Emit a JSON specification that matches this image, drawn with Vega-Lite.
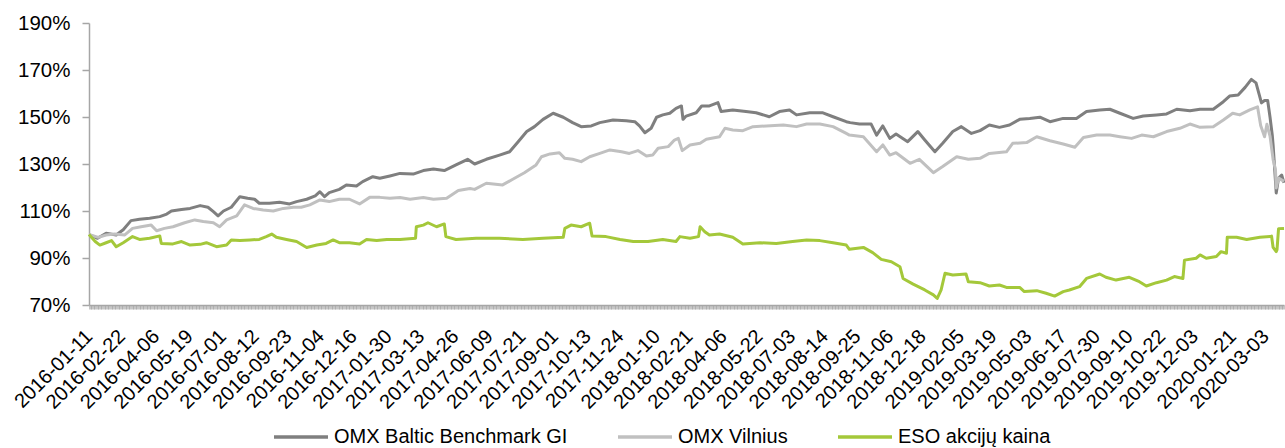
{
  "$schema": "https://vega.github.io/schema/vega-lite/v6.json",
  "width": 1195,
  "height": 282,
  "autosize": {"type": "none"},
  "padding": {"left": 89, "top": 23, "right": 1, "bottom": 143},
  "background": "white",
  "config": {"font": "Liberation Sans", "view": {"stroke": null}},
  "datasets": {
    "baltic": [
      {"d":"2016-01-11","v":100},{"d":"2016-01-22","v":98.4},{"d":"2016-02-02","v":100.5},{"d":"2016-02-15","v":99.8},{"d":"2016-02-24","v":102},{"d":"2016-03-05","v":105.9},{"d":"2016-03-16","v":106.5},{"d":"2016-03-29","v":106.9},{"d":"2016-04-11","v":107.6},{"d":"2016-04-20","v":108.7},{"d":"2016-04-26","v":110},{"d":"2016-05-09","v":110.6},{"d":"2016-05-20","v":111.1},{"d":"2016-06-02","v":112.3},{"d":"2016-06-12","v":111.6},{"d":"2016-06-19","v":109.7},{"d":"2016-06-25","v":107.9},{"d":"2016-07-02","v":110},{"d":"2016-07-12","v":111.6},{"d":"2016-07-23","v":116.1},{"d":"2016-08-02","v":115.4},{"d":"2016-08-11","v":115},{"d":"2016-08-17","v":113.3},{"d":"2016-08-30","v":113.3},{"d":"2016-09-12","v":113.7},{"d":"2016-09-25","v":113},{"d":"2016-10-04","v":114},{"d":"2016-10-17","v":115},{"d":"2016-10-28","v":116.4},{"d":"2016-11-03","v":118.2},{"d":"2016-11-09","v":116.1},{"d":"2016-11-15","v":117.8},{"d":"2016-11-28","v":119.2},{"d":"2016-12-07","v":121.1},{"d":"2016-12-20","v":120.6},{"d":"2016-12-28","v":122.5},{"d":"2017-01-10","v":124.6},{"d":"2017-01-19","v":123.9},{"d":"2017-02-01","v":124.9},{"d":"2017-02-14","v":126},{"d":"2017-03-03","v":125.7},{"d":"2017-03-16","v":127.2},{"d":"2017-03-29","v":127.9},{"d":"2017-04-12","v":127.2},{"d":"2017-04-27","v":129.6},{"d":"2017-05-12","v":132},{"d":"2017-05-21","v":130},{"d":"2017-06-05","v":132},{"d":"2017-06-22","v":133.8},{"d":"2017-07-05","v":135.2},{"d":"2017-07-16","v":139.5},{"d":"2017-07-27","v":143.8},{"d":"2017-08-06","v":145.9},{"d":"2017-08-17","v":149},{"d":"2017-08-30","v":151.6},{"d":"2017-09-12","v":149.9},{"d":"2017-09-24","v":147.6},{"d":"2017-10-05","v":145.9},{"d":"2017-10-18","v":146.2},{"d":"2017-10-29","v":147.6},{"d":"2017-11-15","v":148.7},{"d":"2017-12-02","v":148.4},{"d":"2017-12-13","v":148},{"d":"2017-12-19","v":146.2},{"d":"2017-12-26","v":143.3},{"d":"2018-01-03","v":145.2},{"d":"2018-01-10","v":149.9},{"d":"2018-01-18","v":150.9},{"d":"2018-01-27","v":151.6},{"d":"2018-02-04","v":153.7},{"d":"2018-02-11","v":154.7},{"d":"2018-02-13","v":149},{"d":"2018-02-17","v":150.4},{"d":"2018-03-02","v":151.8},{"d":"2018-03-09","v":154.7},{"d":"2018-03-19","v":154.7},{"d":"2018-03-30","v":156.1},{"d":"2018-04-03","v":152.3},{"d":"2018-04-18","v":153},{"d":"2018-05-05","v":152.3},{"d":"2018-05-18","v":151.8},{"d":"2018-06-04","v":150.1},{"d":"2018-06-17","v":152.3},{"d":"2018-06-30","v":153},{"d":"2018-07-09","v":150.9},{"d":"2018-07-26","v":151.8},{"d":"2018-08-12","v":151.8},{"d":"2018-08-25","v":150.1},{"d":"2018-09-11","v":148},{"d":"2018-09-16","v":147.6},{"d":"2018-09-28","v":147},{"d":"2018-10-13","v":147},{"d":"2018-10-20","v":142.3},{"d":"2018-10-28","v":146.2},{"d":"2018-11-06","v":140.9},{"d":"2018-11-14","v":142.8},{"d":"2018-11-29","v":139.5},{"d":"2018-12-12","v":143.8},{"d":"2018-12-21","v":140.2},{"d":"2019-01-03","v":135.2},{"d":"2019-01-13","v":138.8},{"d":"2019-01-26","v":143.8},{"d":"2019-02-06","v":145.9},{"d":"2019-02-19","v":143},{"d":"2019-03-02","v":144.2},{"d":"2019-03-14","v":146.6},{"d":"2019-03-27","v":145.6},{"d":"2019-04-09","v":146.6},{"d":"2019-04-22","v":149},{"d":"2019-05-05","v":149.4},{"d":"2019-05-18","v":149.9},{"d":"2019-05-31","v":148},{"d":"2019-06-17","v":149.4},{"d":"2019-07-04","v":149.4},{"d":"2019-07-17","v":152.3},{"d":"2019-08-03","v":153},{"d":"2019-08-16","v":153.3},{"d":"2019-08-29","v":151.6},{"d":"2019-09-15","v":149.4},{"d":"2019-09-28","v":150.4},{"d":"2019-10-15","v":150.9},{"d":"2019-10-28","v":151.3},{"d":"2019-11-10","v":153.3},{"d":"2019-11-27","v":152.7},{"d":"2019-12-10","v":153.3},{"d":"2019-12-27","v":153.3},{"d":"2020-01-09","v":156.5},{"d":"2020-01-17","v":158.9},{"d":"2020-01-28","v":159.4},{"d":"2020-02-06","v":162.6},{"d":"2020-02-14","v":166},{"d":"2020-02-20","v":164.5},{"d":"2020-02-27","v":156},{"d":"2020-03-02","v":157},{"d":"2020-03-06","v":157},{"d":"2020-03-09","v":150},{"d":"2020-03-12","v":142},{"d":"2020-03-13","v":138},{"d":"2020-03-17","v":117.7},{"d":"2020-03-20","v":124},{"d":"2020-03-24","v":125.3},{"d":"2020-03-27","v":122}
    ],
    "vilnius": [
      {"d":"2016-01-11","v":100},{"d":"2016-01-23","v":98.8},{"d":"2016-02-02","v":99.8},{"d":"2016-02-13","v":100.2},{"d":"2016-02-26","v":99.8},{"d":"2016-03-07","v":102.6},{"d":"2016-03-18","v":103.3},{"d":"2016-03-31","v":104},{"d":"2016-04-07","v":101.6},{"d":"2016-04-17","v":102.6},{"d":"2016-04-28","v":103.3},{"d":"2016-05-13","v":105},{"d":"2016-05-26","v":106.2},{"d":"2016-06-06","v":105.5},{"d":"2016-06-19","v":105},{"d":"2016-06-27","v":103.3},{"d":"2016-07-06","v":106.2},{"d":"2016-07-19","v":107.9},{"d":"2016-07-29","v":112.6},{"d":"2016-08-09","v":111.1},{"d":"2016-08-22","v":110.4},{"d":"2016-09-04","v":110},{"d":"2016-09-17","v":111.1},{"d":"2016-09-30","v":111.6},{"d":"2016-10-10","v":111.6},{"d":"2016-10-21","v":112.6},{"d":"2016-11-03","v":114.7},{"d":"2016-11-15","v":114},{"d":"2016-11-28","v":115},{"d":"2016-12-11","v":115},{"d":"2016-12-24","v":113},{"d":"2017-01-06","v":115.8},{"d":"2017-01-19","v":115.8},{"d":"2017-02-01","v":115.4},{"d":"2017-02-14","v":115.7},{"d":"2017-02-27","v":115},{"d":"2017-03-16","v":115.7},{"d":"2017-03-29","v":115},{"d":"2017-04-15","v":115.4},{"d":"2017-04-30","v":118.7},{"d":"2017-05-15","v":119.6},{"d":"2017-05-21","v":119.2},{"d":"2017-06-05","v":121.8},{"d":"2017-06-26","v":121.1},{"d":"2017-07-09","v":123.5},{"d":"2017-07-24","v":126.3},{"d":"2017-08-08","v":129.6},{"d":"2017-08-15","v":133.1},{"d":"2017-08-26","v":134.3},{"d":"2017-09-07","v":134.8},{"d":"2017-09-14","v":132.4},{"d":"2017-09-24","v":132},{"d":"2017-10-05","v":131},{"d":"2017-10-16","v":133.1},{"d":"2017-10-29","v":134.5},{"d":"2017-11-11","v":136},{"d":"2017-11-26","v":135.2},{"d":"2017-12-06","v":134.5},{"d":"2017-12-17","v":135.7},{"d":"2017-12-28","v":133.4},{"d":"2018-01-05","v":133.8},{"d":"2018-01-12","v":136.7},{"d":"2018-01-25","v":137.4},{"d":"2018-02-02","v":140.2},{"d":"2018-02-07","v":140.9},{"d":"2018-02-12","v":135.7},{"d":"2018-02-22","v":138.1},{"d":"2018-03-07","v":138.8},{"d":"2018-03-15","v":140.5},{"d":"2018-04-01","v":141.6},{"d":"2018-04-08","v":145.2},{"d":"2018-04-18","v":144.5},{"d":"2018-05-01","v":144.2},{"d":"2018-05-14","v":145.9},{"d":"2018-05-31","v":146.2},{"d":"2018-06-22","v":146.6},{"d":"2018-07-09","v":145.9},{"d":"2018-07-22","v":147},{"d":"2018-08-08","v":147},{"d":"2018-08-25","v":145.9},{"d":"2018-09-11","v":143},{"d":"2018-09-15","v":142.3},{"d":"2018-10-03","v":141.6},{"d":"2018-10-20","v":135.2},{"d":"2018-10-28","v":138.1},{"d":"2018-11-06","v":133.8},{"d":"2018-11-14","v":134.8},{"d":"2018-12-02","v":130.3},{"d":"2018-12-14","v":132},{"d":"2019-01-01","v":126.3},{"d":"2019-01-13","v":128.9},{"d":"2019-01-31","v":133.1},{"d":"2019-02-15","v":132},{"d":"2019-03-02","v":132.4},{"d":"2019-03-14","v":134.5},{"d":"2019-04-05","v":135.2},{"d":"2019-04-13","v":138.8},{"d":"2019-05-01","v":139.1},{"d":"2019-05-14","v":141.6},{"d":"2019-05-31","v":139.9},{"d":"2019-06-17","v":138.5},{"d":"2019-07-02","v":137.1},{"d":"2019-07-13","v":141.3},{"d":"2019-07-30","v":142.3},{"d":"2019-08-16","v":142.3},{"d":"2019-08-29","v":141.6},{"d":"2019-09-13","v":140.9},{"d":"2019-09-26","v":142.3},{"d":"2019-10-11","v":141.6},{"d":"2019-10-28","v":143.8},{"d":"2019-11-14","v":145.2},{"d":"2019-11-27","v":147},{"d":"2019-12-10","v":145.6},{"d":"2019-12-27","v":145.9},{"d":"2020-01-09","v":148.7},{"d":"2020-01-21","v":151.6},{"d":"2020-01-30","v":150.9},{"d":"2020-02-12","v":153},{"d":"2020-02-22","v":154.3},{"d":"2020-02-26","v":146.4},{"d":"2020-03-02","v":141.6},{"d":"2020-03-05","v":146.9},{"d":"2020-03-09","v":141.9},{"d":"2020-03-13","v":131.9},{"d":"2020-03-16","v":127.7},{"d":"2020-03-17","v":119.8},{"d":"2020-03-20","v":124},{"d":"2020-03-27","v":122.6}
    ],
    "eso": [
      {"d":"2016-01-11","v":100},{"d":"2016-01-19","v":97},{"d":"2016-01-25","v":95.5},{"d":"2016-02-02","v":96.5},{"d":"2016-02-09","v":97.4},{"d":"2016-02-15","v":94.8},{"d":"2016-02-24","v":96.5},{"d":"2016-03-07","v":99.1},{"d":"2016-03-16","v":97.9},{"d":"2016-03-29","v":98.4},{"d":"2016-04-11","v":99.4},{"d":"2016-04-13","v":96.2},{"d":"2016-04-28","v":96},{"d":"2016-05-09","v":97},{"d":"2016-05-20","v":95.5},{"d":"2016-06-02","v":95.8},{"d":"2016-06-10","v":96.5},{"d":"2016-06-23","v":94.8},{"d":"2016-07-06","v":95.5},{"d":"2016-07-12","v":97.7},{"d":"2016-07-23","v":97.4},{"d":"2016-08-05","v":97.7},{"d":"2016-08-17","v":97.9},{"d":"2016-08-26","v":99.1},{"d":"2016-09-02","v":100.2},{"d":"2016-09-08","v":98.8},{"d":"2016-09-21","v":97.9},{"d":"2016-10-04","v":97},{"d":"2016-10-17","v":94.5},{"d":"2016-10-30","v":95.5},{"d":"2016-11-11","v":96.2},{"d":"2016-11-20","v":97.7},{"d":"2016-11-28","v":96.5},{"d":"2016-12-11","v":96.5},{"d":"2016-12-24","v":96},{"d":"2017-01-02","v":97.9},{"d":"2017-01-15","v":97.4},{"d":"2017-01-28","v":97.9},{"d":"2017-02-14","v":97.9},{"d":"2017-03-06","v":98.4},{"d":"2017-03-07","v":103.3},{"d":"2017-03-16","v":104},{"d":"2017-03-22","v":105},{"d":"2017-04-02","v":103.3},{"d":"2017-04-12","v":104.5},{"d":"2017-04-14","v":99.1},{"d":"2017-04-27","v":97.9},{"d":"2017-05-23","v":98.4},{"d":"2017-06-22","v":98.4},{"d":"2017-07-22","v":97.9},{"d":"2017-08-17","v":98.4},{"d":"2017-09-12","v":98.8},{"d":"2017-09-14","v":102.6},{"d":"2017-09-22","v":104},{"d":"2017-10-05","v":103.3},{"d":"2017-10-16","v":104.8},{"d":"2017-10-19","v":99.4},{"d":"2017-11-06","v":99.1},{"d":"2017-11-24","v":97.9},{"d":"2017-12-11","v":97},{"d":"2017-12-30","v":97},{"d":"2018-01-18","v":97.9},{"d":"2018-02-04","v":97},{"d":"2018-02-09","v":99.1},{"d":"2018-02-22","v":98.4},{"d":"2018-03-05","v":99.1},{"d":"2018-03-07","v":103.3},{"d":"2018-03-13","v":101.2},{"d":"2018-03-19","v":99.8},{"d":"2018-04-01","v":100.2},{"d":"2018-04-18","v":98.8},{"d":"2018-05-01","v":96},{"d":"2018-05-23","v":96.5},{"d":"2018-06-13","v":96.2},{"d":"2018-07-04","v":97},{"d":"2018-07-22","v":97.7},{"d":"2018-08-08","v":97.4},{"d":"2018-08-25","v":96.5},{"d":"2018-09-11","v":95.5},{"d":"2018-09-15","v":93.7},{"d":"2018-10-03","v":94.5},{"d":"2018-10-15","v":92.3},{"d":"2018-10-26","v":89.4},{"d":"2018-11-08","v":88.4},{"d":"2018-11-19","v":86.3},{"d":"2018-11-23","v":81.3},{"d":"2018-12-06","v":78.9},{"d":"2018-12-21","v":76.4},{"d":"2019-01-01","v":74.3},{"d":"2019-01-06","v":72.8},{"d":"2019-01-11","v":76.4},{"d":"2019-01-16","v":83.5},{"d":"2019-01-26","v":82.8},{"d":"2019-02-12","v":83.2},{"d":"2019-02-15","v":79.9},{"d":"2019-03-02","v":79.5},{"d":"2019-03-14","v":78.1},{"d":"2019-03-27","v":78.5},{"d":"2019-04-05","v":77.5},{"d":"2019-04-22","v":77.5},{"d":"2019-04-28","v":75.7},{"d":"2019-05-14","v":76.1},{"d":"2019-05-26","v":75},{"d":"2019-06-06","v":73.8},{"d":"2019-06-17","v":75.7},{"d":"2019-06-25","v":76.4},{"d":"2019-07-08","v":77.8},{"d":"2019-07-17","v":81.3},{"d":"2019-08-03","v":83.2},{"d":"2019-08-11","v":81.8},{"d":"2019-08-24","v":80.6},{"d":"2019-09-10","v":81.8},{"d":"2019-09-23","v":79.9},{"d":"2019-10-02","v":78.1},{"d":"2019-10-15","v":79.5},{"d":"2019-10-28","v":80.6},{"d":"2019-11-07","v":82.1},{"d":"2019-11-18","v":81.3},{"d":"2019-11-20","v":89.1},{"d":"2019-12-05","v":89.9},{"d":"2019-12-10","v":91.3},{"d":"2019-12-18","v":89.9},{"d":"2019-12-31","v":90.6},{"d":"2020-01-06","v":92.7},{"d":"2020-01-13","v":92},{"d":"2020-01-14","v":98.8},{"d":"2020-01-26","v":98.8},{"d":"2020-02-08","v":97.9},{"d":"2020-02-25","v":98.8},{"d":"2020-03-09","v":99.1},{"d":"2020-03-11","v":99.3},{"d":"2020-03-13","v":94.5},{"d":"2020-03-17","v":92.7},{"d":"2020-03-18","v":93.5},{"d":"2020-03-20","v":102.5},{"d":"2020-03-27","v":102.6}
    ]
  },
  "layer": [
    {
      "data": {"name": "baltic"},
      "mark": {"type": "line", "strokeWidth": 3, "strokeJoin": "round"},
      "encoding": {
        "x": {"field": "d", "type": "temporal"},
        "y": {"field": "v", "type": "quantitative"},
        "color": {"datum": "OMX Baltic Benchmark GI", "type": "nominal"}
      }
    },
    {
      "data": {"name": "vilnius"},
      "mark": {"type": "line", "strokeWidth": 3, "strokeJoin": "round"},
      "encoding": {
        "x": {"field": "d", "type": "temporal"},
        "y": {"field": "v", "type": "quantitative"},
        "color": {"datum": "OMX Vilnius", "type": "nominal"}
      }
    },
    {
      "data": {"name": "eso"},
      "mark": {"type": "line", "strokeWidth": 3, "strokeJoin": "round"},
      "encoding": {
        "x": {
          "field": "d", "type": "temporal",
          "scale": {"domain": [{"year": 2016, "month": 1, "date": 11}, {"year": 2020, "month": 3, "date": 27}]},
          "axis": {
            "title": null, "grid": false,
            "tickCount": {"interval": "day", "step": 1},
            "labelExpr": "indexof(['2016-01-11','2016-02-22','2016-04-06','2016-05-19','2016-07-01','2016-08-12','2016-09-23','2016-11-04','2016-12-16','2017-01-30','2017-03-13','2017-04-26','2017-06-09','2017-07-21','2017-09-01','2017-10-13','2017-11-24','2018-01-10','2018-02-21','2018-04-06','2018-05-22','2018-07-03','2018-08-14','2018-09-25','2018-11-06','2018-12-18','2019-02-05','2019-03-19','2019-05-03','2019-06-17','2019-07-30','2019-09-10','2019-10-22','2019-12-03','2020-01-21','2020-03-03'], timeFormat(datum.value, '%Y-%m-%d')) >= 0 ? timeFormat(datum.value, '%Y-%m-%d') : ''",
            "labelAngle": -45, "labelAlign": "right", "labelBaseline": "middle",
            "labelFontSize": 20, "labelColor": "#000000",
            "labelOverlap": false, "labelBound": false, "labelFlush": false,
            "labelPadding": 24, "tickSize": 4, "tickWidth": 0.6, "tickColor": "#a0a0a0",
            "domainColor": "#a6a6a6", "domainWidth": 1.5
          }
        },
        "y": {
          "field": "v", "type": "quantitative",
          "scale": {"domain": [70, 190], "nice": false, "zero": false},
          "axis": {
            "title": null, "grid": false,
            "values": [70, 90, 110, 130, 150, 170, 190],
            "labelExpr": "datum.value + '%'",
            "labelFontSize": 20.5, "labelColor": "#000000",
            "tickSize": 7, "labelPadding": 12, "tickColor": "#a6a6a6", "tickWidth": 1.5,
            "domainColor": "#a6a6a6", "domainWidth": 1.5
          }
        },
        "color": {
          "datum": "ESO akcijų kaina", "type": "nominal",
          "scale": {"domain": ["OMX Baltic Benchmark GI", "OMX Vilnius", "ESO akcijų kaina"], "range": ["#7f7f7f", "#c0c0c0", "#a4c83a"]},
          "legend": {
            "orient": "none", "legendX": 183, "legendY": 385, "direction": "horizontal",
            "title": null, "symbolType": "stroke", "symbolSize": 2916, "symbolStrokeWidth": 3.5,
            "labelFontSize": 20, "labelColor": "#000000", "labelOffset": 4, "columnPadding": 43, "labelLimit": 400
          }
        }
      }
    }
  ]
}
